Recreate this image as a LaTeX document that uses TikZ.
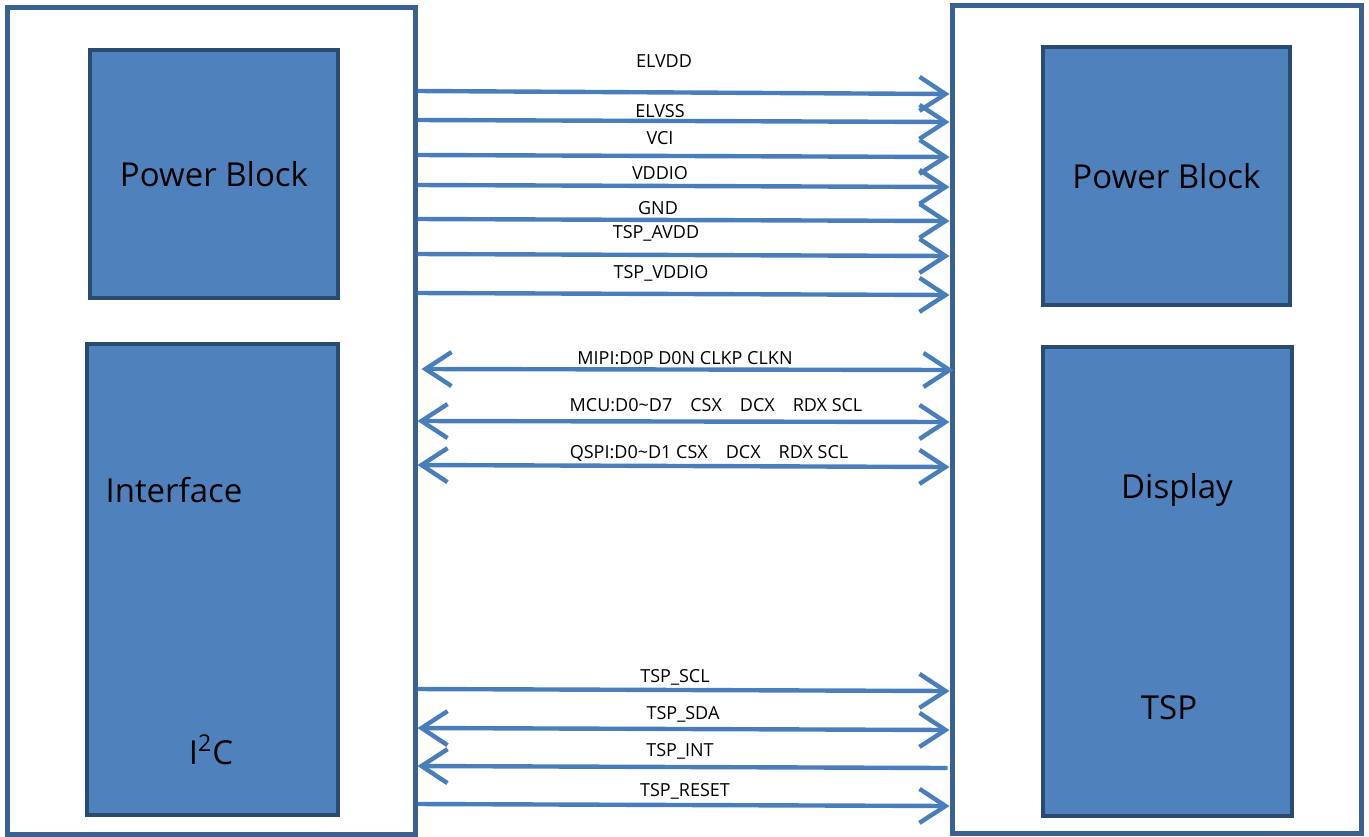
\documentclass[tikz,border=0pt]{standalone}
\usepackage{fontspec}
\setmainfont{Open Sans}
\usetikzlibrary{arrows.meta}

\definecolor{frameblue}{HTML}{3B6192}
\definecolor{blockfill}{HTML}{4F81BD}
\definecolor{blockline}{HTML}{2B4A70}
\definecolor{sigblue}{HTML}{4A7EBB}

\tikzset{
  outerbox/.style={draw=frameblue, line width=2.5pt, fill=white, inner sep=0pt},
  block/.style={draw=blockline, fill=blockfill, line width=2pt, inner sep=0pt,
    font=\fontsize{16.5}{18}\selectfont},
  blocktext/.style={font=\fontsize{16.5}{18}\selectfont, inner sep=0pt},
  sig/.style={draw=sigblue, line width=2.2pt},
  tip/.tip={Straight Barb[length=13pt, width=17pt, line width=2.2pt]},
  siglabel/.style={font=\fontsize{9}{10}\selectfont, inner sep=0pt}
}

\begin{document}
\begin{tikzpicture}[x=0.5pt, y=-0.5pt]
\useasboundingbox (0,0) rectangle (1369,836);

% Outer frames
\node[outerbox, minimum width=204pt, minimum height=413.5pt] (host) at (211,420.5) {};
\node[outerbox, minimum width=204.5pt, minimum height=414pt] (panel) at (1156.5,419) {};

% Blocks
\node[block, minimum width=124pt, minimum height=124pt] (hostpwr) at (214,174) {Power Block};
\node[block, minimum width=125.5pt, minimum height=235.5pt] (hostif) at (212.5,579.5) {};
\node[block, minimum width=123.5pt, minimum height=129pt] (panelpwr) at (1166.5,176) {Power Block};
\node[block, minimum width=124.5pt, minimum height=234.5pt] (paneldisp) at (1167.5,581.5) {};

% Block texts
\node[blocktext] (iftext) at (174,490) {Interface};
\node[blocktext] (i2ctext) at (211,750) {I\textsuperscript{2}C};
\node[blocktext] (disptext) at (1177,490) {Display};
\node[blocktext] (tsptext) at (1169,708) {TSP};

% Arrow end x
\coordinate (hx) at (host.east);
\coordinate (px) at (panel.west);

% Power lines
\draw[sig, -tip] (hx |- 0,91) -- (px |- 0,94);
\draw[sig, -tip] (hx |- 0,120) -- (px |- 0,122);
\draw[sig, -tip] (hx |- 0,155) -- (px |- 0,157);
\draw[sig, -tip] (hx |- 0,185) -- (px |- 0,187);
\draw[sig, -tip] (hx |- 0,219) -- (px |- 0,221);
\draw[sig, -tip] (hx |- 0,254) -- (px |- 0,256);
\draw[sig, -tip] (hx |- 0,293) -- (px |- 0,295);

\node[siglabel] (lelvdd) at (664,61) {ELVDD};
\node[siglabel] (lelvss) at (660,111) {ELVSS};
\node[siglabel] (lvci) at (660,138) {VCI};
\node[siglabel] (lvddio) at (660,173) {VDDIO};
\node[siglabel] (lgnd) at (658,208) {GND};
\node[siglabel] (ltspavdd) at (656,233) {TSP\_AVDD};
\node[siglabel] (ltspvddio) at (661,273) {TSP\_VDDIO};

% Interface lines
\draw[sig, tip-tip] ([xshift=2pt]hx |- 0,369) -- ([xshift=2pt]px |- 0,370);
\draw[sig, tip-tip] (hx |- 0,421) -- (px |- 0,422);
\draw[sig, tip-tip] (hx |- 0,465) -- (px |- 0,467);

\node[siglabel] (lmipi) at (685,358) {MIPI:D0P D0N CLKP CLKN};
\node[siglabel] (lmcu) at (716,405) {MCU:D0\textasciitilde D7\quad CSX\quad DCX\quad RDX SCL};
\node[siglabel] (lqspi) at (709,453) {QSPI:D0\textasciitilde D1 CSX\quad DCX\quad RDX SCL};

% TSP lines
\draw[sig, -tip] (hx |- 0,689) -- (px |- 0,691);
\draw[sig, tip-tip] (hx |- 0,728) -- (px |- 0,730);
\draw[sig, tip-] (hx |- 0,766) -- ([xshift=-1pt]px |- 0,768);
\draw[sig, -tip] (hx |- 0,804) -- (px |- 0,806);

\node[siglabel] (ltspscl) at (675,677) {TSP\_SCL};
\node[siglabel] (ltspsda) at (683,714) {TSP\_SDA};
\node[siglabel] (ltspint) at (680,751) {TSP\_INT};
\node[siglabel] (ltsprst) at (685,791) {TSP\_RESET};
\end{tikzpicture}
\end{document}
